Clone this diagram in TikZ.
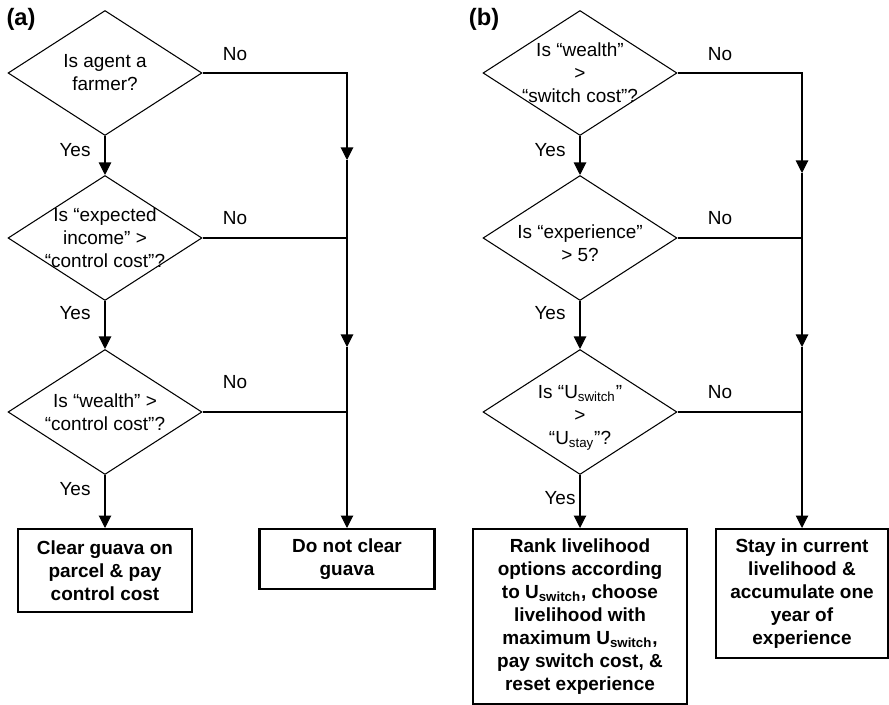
\documentclass[tikz,border=0pt]{standalone}
\usepackage{fontspec}
\setmainfont{Liberation Sans}
\usetikzlibrary{shapes.geometric,arrows.meta,positioning}
\tikzset{%
  font=\fontsize{10.8pt}{13.1pt}\selectfont,
  >={Triangle[width=0.25cm,length=0.25cm]},
  decision/.style={diamond, draw, line width=0.6pt, inner sep=0pt,
    minimum width=3.88cm, minimum height=2.5cm},
  qtext/.style={align=center, inner sep=0pt},
  result/.style={rectangle, draw, line width=1.2pt, align=center, anchor=north,
    font=\fontsize{10.8pt}{13.1pt}\selectfont\bfseries},
  flow/.style={draw, line width=0.6pt},
  tag/.style={inner sep=0pt},
  panel/.style={inner sep=0pt, font=\fontsize{13.5pt}{15pt}\selectfont\bfseries}
}

\begin{document}
\begin{tikzpicture}[x=0.02cm,y=-0.02cm]
  \useasboundingbox (0,0) rectangle (889,705);

  % panel (a)
  \node[panel] (pa) at (21,19) {(a)};
  \node[decision,label={[qtext]center:{Is agent a\\farmer?}}] (a1) at (105,73) {};
  \node[decision,label={[qtext]center:{Is “expected\\income” >\\“control cost”?}}] (a2) at (105,238) {};
  \node[decision,label={[qtext]center:{Is “wealth” >\\“control cost”?}}] (a3) at (105,412) {};
  \node[result,minimum width=3.48cm,minimum height=1.66cm] (a4) at (105,528)
    {Clear guava on\\parcel \& pay\\control cost};
  \node[result,minimum width=3.5cm,minimum height=1.2cm] (a5) at (347,528)
    {Do not clear\\guava};
  \coordinate (ja1) at (347,160);
  \coordinate (ja2) at (347,347);

  \draw[flow,->] (a1.south) -- (a2.north);
  \draw[flow,->] (a2.south) -- (a3.north);
  \draw[flow,->] (a3.south) -- (a4.north);
  \draw[flow,->] (a1.east) -| (ja1);
  \draw[flow,->] (ja1) -- (ja2);
  \draw[flow,->] (ja2) -- (a5.north);
  \draw[flow] (a2.east) -- (a2.east -| ja1);
  \draw[flow] (a3.east) -- (a3.east -| ja1);

  \node[tag] (ya1) at (75,150) {Yes};
  \node[tag] (ya2) at (75,313) {Yes};
  \node[tag] (ya3) at (75,489) {Yes};
  \node[tag] (na1) at (235,54) {No};
  \node[tag] (na2) at (235,218) {No};
  \node[tag] (na3) at (235,382) {No};

  % panel (b)
  \node[panel] (pb) at (484,19) {(b)};
  \node[decision,label={[qtext]center:{Is “wealth”\\>\\“switch cost”?}}] (b1) at (580,73) {};
  \node[decision,label={[qtext,yshift=-0.1cm]center:{Is “experience”\\> 5?}}] (b2) at (580,238) {};
  \node[decision,label={[qtext,yshift=-0.12cm]center:{Is “U\textsubscript{switch}”\\>\\“U\textsubscript{stay}”?}}] (b3) at (580,412) {};
  \node[result,minimum width=4.28cm,minimum height=3.5cm] (b4) at (580,528)
    {Rank livelihood\\options according\\to U\textsubscript{switch}, choose\\livelihood with\\maximum U\textsubscript{switch},\\pay switch cost, \&\\reset experience};
  \node[result,minimum width=3.44cm,minimum height=2.58cm] (b5) at (802,528)
    {Stay in current\\livelihood \&\\accumulate one\\year of\\experience};
  \coordinate (jb1) at (802,173);
  \coordinate (jb2) at (802,347);

  \draw[flow,->] (b1.south) -- (b2.north);
  \draw[flow,->] (b2.south) -- (b3.north);
  \draw[flow,->] (b3.south) -- (b4.north);
  \draw[flow,->] (b1.east) -| (jb1);
  \draw[flow,->] (jb1) -- (jb2);
  \draw[flow,->] (jb2) -- (b5.north);
  \draw[flow] (b2.east) -- (b2.east -| jb1);
  \draw[flow] (b3.east) -- (b3.east -| jb1);

  \node[tag] (yb1) at (550,150) {Yes};
  \node[tag] (yb2) at (550,313) {Yes};
  \node[tag] (yb3) at (560,498) {Yes};
  \node[tag] (nb1) at (720,54) {No};
  \node[tag] (nb2) at (720,218) {No};
  \node[tag] (nb3) at (720,392) {No};
\end{tikzpicture}
\end{document}
